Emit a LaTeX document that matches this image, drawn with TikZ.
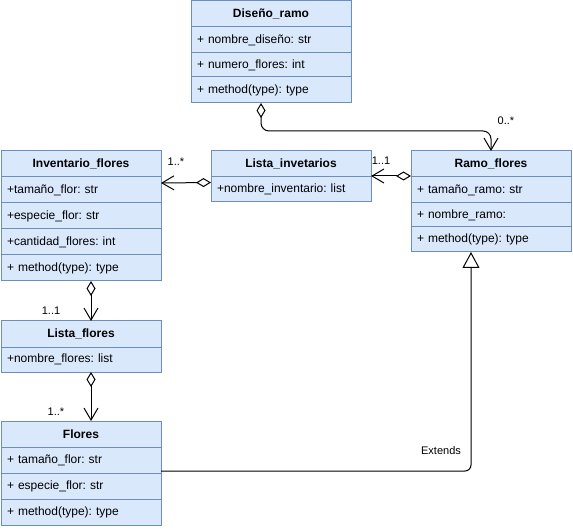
\documentclass[tikz,border=0pt]{standalone}
\usepackage{fontspec}
\setmainfont{Liberation Sans}
\usetikzlibrary{arrows.meta,positioning}
\definecolor{umlfill}{HTML}{DAE8FC}
\definecolor{umlline}{HTML}{6C8EBF}
\frenchspacing

\begin{document}
\begin{tikzpicture}[
    x=1pt,y=-1pt,node distance=0pt,
    classhead/.style={rectangle,draw=umlline,fill=umlfill,line width=1pt,outer sep=0pt,
        minimum width=160pt,minimum height=26pt,inner sep=0pt,anchor=north west,
        font=\fontsize{12}{14}\selectfont\bfseries},
    classrow/.style={rectangle,draw=umlline,fill=umlfill,line width=1pt,outer sep=0pt,
        minimum width=160pt,minimum height=26pt,inner xsep=6pt,inner ysep=0pt,
        text width=148pt,align=left,font=\fontsize{12}{14}\selectfont},
    assoc/.style={draw,line width=1pt,
        {Diamond[open,length=15pt,width=9pt]}-{Straight Barb[length=12pt,width=14pt]}},
    extends/.style={draw,line width=1pt,rounded corners=6pt,
        -{Triangle[open,length=16pt,width=17pt]}},
    mult/.style={font=\fontsize{11}{13}\selectfont,inner sep=1pt}
]
 \useasboundingbox (0,0) rectangle (573,529);

 % Diseño_ramo
 \node[classhead] (dis0) at (191,1) {Diseño\_ramo};
 \node[classrow,below=of dis0] (dis1) {+ nombre\_diseño: str};
 \node[classrow,below=of dis1,minimum height=24pt] (dis2) {+ numero\_flores: int};
 \node[classrow,below=of dis2] (dis3) {+ method(type): type};

 % Inventario_flores
 \node[classhead] (inv0) at (1,151) {Inventario\_flores};
 \node[classrow,below=of inv0] (inv1) {+tamaño\_flor: str};
 \node[classrow,below=of inv1] (inv2) {+especie\_flor: str};
 \node[classrow,below=of inv2] (inv3) {+cantidad\_flores: int};
 \node[classrow,below=of inv3] (inv4) {+ method(type): type};

 % Lista_invetarios
 \node[classhead] (linv0) at (211,151) {Lista\_invetarios};
 \node[classrow,below=of linv0,minimum height=25pt] (linv1) {+nombre\_inventario: list};

 % Ramo_flores
 \node[classhead] (ramo0) at (411,151) {Ramo\_flores};
 \node[classrow,below=of ramo0] (ramo1) {+ tamaño\_ramo: str};
 \node[classrow,below=of ramo1,minimum height=24pt] (ramo2) {+ nombre\_ramo:};
 \node[classrow,below=of ramo2,minimum height=25pt] (ramo3) {+ method(type): type};

 % Lista_flores
 \node[classhead] (lflo0) at (1,321) {Lista\_flores};
 \node[classrow,below=of lflo0,minimum height=25pt] (lflo1) {+nombre\_flores: list};

 % Flores
 \node[classhead] (flo0) at (1,421) {Flores};
 \node[classrow,below=of flo0] (flo1) {+ tamaño\_flor: str};
 \node[classrow,below=of flo1] (flo2) {+ especie\_flor: str};
 \node[classrow,below=of flo2] (flo3) {+ method(type): type};

 % connectors
 \draw[assoc,rounded corners=8pt] ([xshift=-10pt]dis3.south) -- ++(0,28) -| (ramo0.north)
    node[mult,xshift=15pt,yshift=30pt] {0..*};
 \draw[assoc] ([yshift=7pt]linv1.west) -- ([yshift=7pt]inv1.east)
    node[mult,xshift=15pt,yshift=21pt] {1..*};
 \draw[assoc] ([yshift=1pt]ramo0.south west) -- ([yshift=1pt]linv0.south east)
    node[mult,xshift=10pt,yshift=15pt] {1..1};
 \draw[assoc] ([xshift=10pt]inv4.south) -- ([xshift=10pt]lflo0.north)
    node[mult,xshift=-40pt,yshift=10pt] {1..1};
 \draw[assoc] ([xshift=10pt]lflo1.south) -- ([xshift=10pt]flo0.north)
    node[mult,xshift=-35pt,yshift=9pt] {1..*};
 \draw[extends] ([yshift=2pt]flo1.south east) -| node[mult,pos=0.5,xshift=-30pt,yshift=20pt] {Extends}
    ([xshift=-20pt]ramo3.south);
\end{tikzpicture}
\end{document}
